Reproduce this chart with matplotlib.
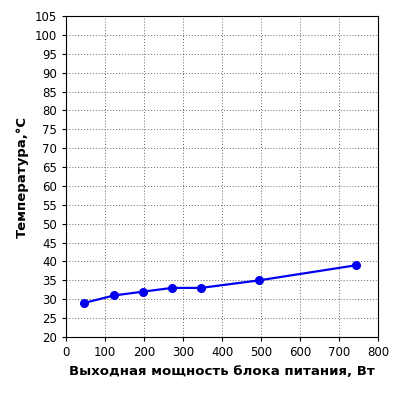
import matplotlib
matplotlib.use("Agg")
import matplotlib.pyplot as plt

power = [46, 123, 197, 272, 346, 495, 744]
temp = [29, 31, 32, 33, 33, 35, 39]
x_ticks = list(range(0, 801, 100))
y_ticks = list(range(20, 106, 5))

fig = plt.figure(figsize=(4, 4), dpi=100)
ax = fig.add_axes([0.165, 0.1575, 0.78, 0.8025])
ax.plot(power, temp, color="#0000ee", lw=1.6, marker="o", ms=5.5)
ax.set_xlim(0, 800)
ax.set_ylim(20, 105)
ax.set_xticks(x_ticks)
ax.set_yticks(y_ticks)
ax.tick_params(labelsize=8.5, length=3)
ax.grid(True, linestyle=(0, (1, 2)), color="#666666", lw=0.7)
ax.set_xlabel("Выходная мощность блока питания, Вт", fontsize=9.5, fontweight="bold")
ax.set_ylabel("Температура,°C", fontsize=9.5, fontweight="bold")
fig.savefig("out.png", dpi=100)
